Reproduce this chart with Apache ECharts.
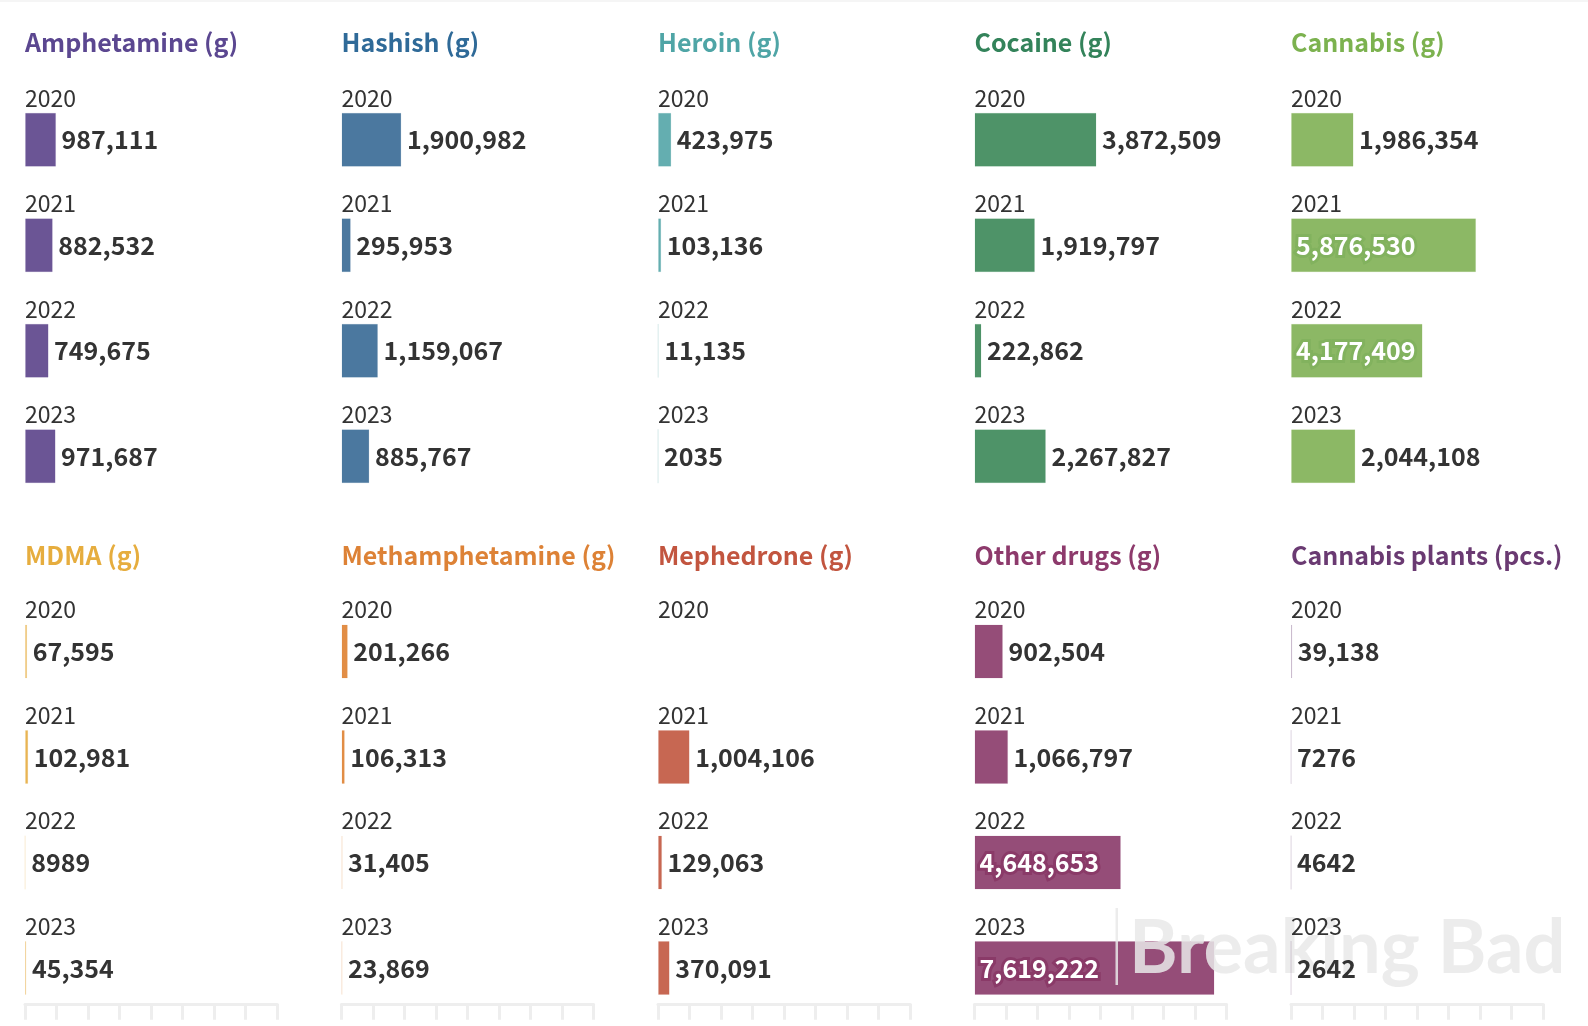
<!DOCTYPE html>
<html>
<head>
<meta charset="utf-8">
<title>Drug seizures</title>
<script src="https://cdn.jsdelivr.net/npm/echarts@6/dist/echarts.min.js"></script>
<style>
  html, body { margin: 0; padding: 0; background: #fff; }
  #main { width: 1588px; height: 1026px; }
</style>
</head>
<body>
<div id="main"></div>
<script>
var years = ['2020', '2021', '2022', '2023'];

var amphetamine = [987111, 882532, 749675, 971687];
var hashish = [1900982, 295953, 1159067, 885767];
var heroin = [423975, 103136, 11135, 2035];
var cocaine = [3872509, 1919797, 222862, 2267827];
var cannabis = [1986354, 5876530, 4177409, 2044108];
var mdma = [67595, 102981, 8989, 45354];
var methamphetamine = [201266, 106313, 31405, 23869];
var mephedrone = [null, 1004106, 129063, 370091];
var otherDrugs = [902504, 1066797, 4648653, 7619222];
var cannabisPlants = [39138, 7276, 4642, 2642];

var names = ['Amphetamine (g)', 'Hashish (g)', 'Heroin (g)', 'Cocaine (g)', 'Cannabis (g)',
  'MDMA (g)', 'Methamphetamine (g)', 'Mephedrone (g)', 'Other drugs (g)', 'Cannabis plants (pcs.)'];
var values = [amphetamine, hashish, heroin, cocaine, cannabis,
  mdma, methamphetamine, mephedrone, otherDrugs, cannabisPlants];
var titleColors = ['#5b4790', '#2f6a98', '#4fa5a6', '#33835a', '#7cb24f',
  '#e6ad3e', '#dd8236', '#c2553f', '#8d3a6c', '#6a3a72'];
var barColors = ['#6b5595', '#4b789f', '#64aeb0', '#4e9368', '#8cb865',
  '#e9b452', '#e28e46', '#c76752', '#954d78', '#7d5a85'];
var outlineColors = ['#5a3f8a', '#2f6a98', '#4fa5a6', '#2f8257', '#82b25e',
  '#dd9f35', '#d67c30', '#b9503a', '#8a3a68', '#6a3a72'];

var FONT = '"Noto Sans CJK SC", "Noto Sans", sans-serif';
var INSIDE_FROM = 4000000;

function fmt(v) {
  return v >= 10000 ? v.toLocaleString('en-US') : String(v);
}

var colX = [25, 341.5, 658, 974.5, 1291];
var rowTop = [87, 598.75];
var rowTitle = [42.5, 555.5];

var grid = [], xAxis = [], yAxis = [], series = [], title = [];

names.forEach(function (name, i) {
  var col = i % 5, row = i < 5 ? 0 : 1;
  // last column sits on the watermark, its texts stay on top
  var z = i === 9 ? 110 : 2;

  title.push({
    text: name,
    left: colX[col],
    top: rowTitle[row],
    textVerticalAlign: 'middle',
    padding: 0,
    textStyle: { color: titleColors[i], fontFamily: FONT, fontWeight: 'bold', fontSize: 25 }
  });

  grid.push({ left: colX[col], top: rowTop[row], width: 252, height: 422 });

  xAxis.push({
    gridIndex: i,
    type: 'value',
    min: 0,
    max: 8000000,
    interval: 1000000,
    show: row === 1,
    position: 'bottom',
    offset: -17,
    splitLine: { show: false },
    axisLabel: { show: false },
    axisLine: { show: true, lineStyle: { color: '#eeeeee', width: 3 } },
    axisTick: { show: true, length: 16, lineStyle: { color: '#eeeeee', width: 3 } }
  });

  yAxis.push({
    gridIndex: i,
    type: 'category',
    inverse: true,
    z: z,
    data: years,
    axisLine: { show: false },
    axisTick: { show: false },
    axisLabel: {
      inside: true,
      margin: 0,
      color: '#333333',
      fontFamily: FONT,
      fontSize: 23,
      verticalAlign: 'bottom',
      lineHeight: 83.5
    }
  });

  series.push({
    type: 'bar',
    xAxisIndex: i,
    yAxisIndex: i,
    z: z,
    barWidth: 54,
    silent: true,
    animation: false,
    itemStyle: {
      color: barColors[i],
      borderColor: barColors[i] + '22',
      borderWidth: 1
    },
    data: values[i].map(function (v) {
      var inside = v >= INSIDE_FROM;
      return {
        value: v,
        label: inside ? {
          show: true,
          position: 'insideLeft',
          distance: 5,
          color: '#ffffff',
          textBorderColor: outlineColors[i],
          textBorderWidth: 6,
          fontFamily: FONT,
          fontWeight: 'bold',
          fontSize: 25,
          formatter: function () { return fmt(v); }
        } : {
          show: v !== null,
          position: 'right',
          distance: 5.5,
          color: '#333333',
          fontFamily: FONT,
          fontWeight: 'bold',
          fontSize: 25,
          formatter: function () { return fmt(v); }
        }
      };
    })
  });
});

var chart = echarts.init(document.getElementById('main'));
chart.setOption({
  backgroundColor: '#ffffff',
  animation: false,
  title: title,
  grid: grid,
  xAxis: xAxis,
  yAxis: yAxis,
  series: series,
  graphic: [
    { type: 'rect', z: 100, silent: true, shape: { x: 0, y: 0, width: 1588, height: 2 }, style: { fill: '#f5f5f5' } },
    { type: 'rect', z: 100, silent: true, shape: { x: 1115.5, y: 908, width: 2.5, height: 77 }, style: { fill: 'rgba(233,233,233,0.85)' } },
    {
      type: 'text',
      z: 100,
      silent: true,
      style: {
        x: 1129,
        y: 949,
        text: 'Breaking Bad',
        textVerticalAlign: 'middle',
        fill: 'rgba(233,233,233,0.85)',
        font: 'bold 74px Lato, sans-serif'
      }
    }
  ]
});
</script>
</body>
</html>
